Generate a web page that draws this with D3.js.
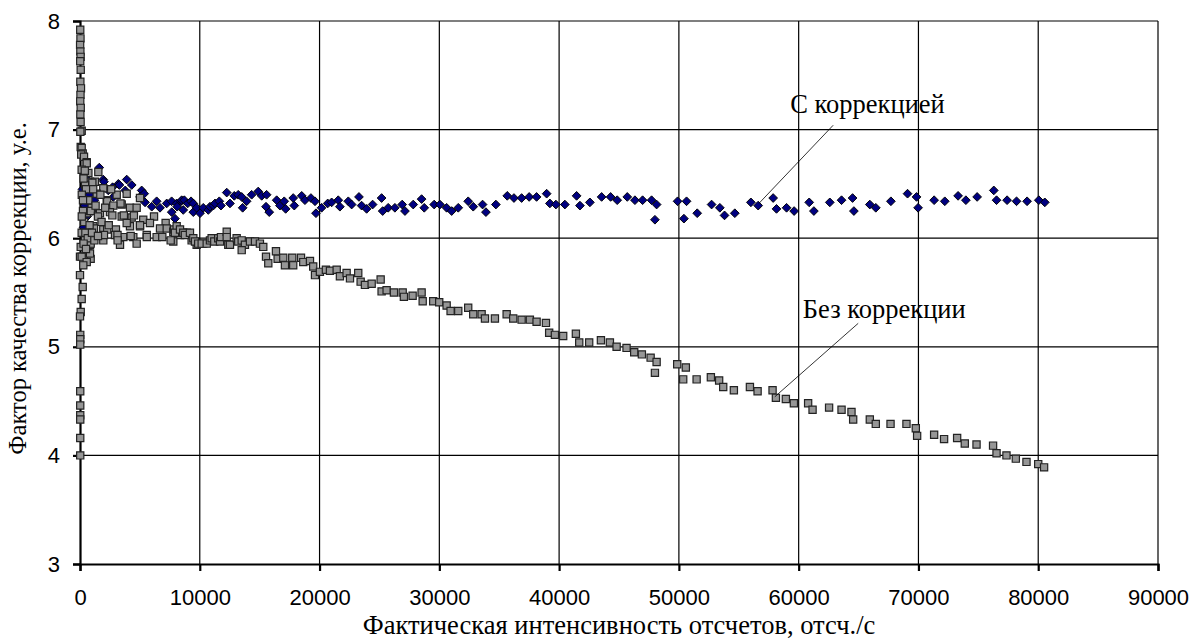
<!DOCTYPE html>
<html>
<head>
<meta charset="utf-8">
<script src="https://cdn.jsdelivr.net/npm/d3@7"></script>
<style>
  body { margin: 0; background: #fff; }
  .tick text { font-family: "Liberation Sans", Arial, sans-serif; font-size: 22px; fill: #000; }
  .title { font-family: "Liberation Serif", "Times New Roman", serif; font-size: 26.5px; fill: #000; }
  .ytitle { font-family: "Liberation Serif", "Times New Roman", serif; font-size: 24.5px; fill: #000; }
</style>
</head>
<body>
<div id="chart"></div>
<script>
// series: С коррекцией (with correction), [intensity, factor]
const withCorrection = [
  [200,6.45],[400,6.30],[600,6.20],[300,6.10],[800,6.40],[1000,6.25],[500,6.55],[1200,6.35],
  [1610,6.65],[1940,6.54],[2000,6.52],[2360,6.44],[2720,6.47],[2780,6.38],[3200,6.50],[3290,6.49],
  [3780,6.44],[3900,6.54],[4320,6.49],[5150,6.44],[5010,6.38],[5360,6.41],[5430,6.33],[5990,6.29],
  [6400,6.34],[6680,6.28],[7240,6.32],[7650,6.34],[7660,6.24],[7930,6.18],[8070,6.32],[8110,6.29],
  [8430,6.34],[8490,6.35],[8710,6.35],[8620,6.26],[8990,6.32],[9270,6.34],[9460,6.32],[9460,6.24],
  [9740,6.28],[10020,6.23],[10290,6.28],[10710,6.26],[10850,6.29],[11130,6.30],[11270,6.32],[11630,6.34],
  [11770,6.30],[12250,6.42],[12520,6.32],[12880,6.39],[13210,6.40],[13500,6.38],[13580,6.28],[13910,6.34],
  [14330,6.40],[14880,6.43],[15170,6.39],[15580,6.40],[15530,6.29],[15800,6.24],[16420,6.35],[16690,6.30],
  [17050,6.34],[17170,6.27],[17800,6.37],[17890,6.30],[18510,6.39],[18780,6.35],[19280,6.37],[19620,6.34],
  [19700,6.23],[20170,6.28],[20680,6.32],[21010,6.33],[21560,6.35],[21700,6.29],[22400,6.34],[22680,6.31],
  [23290,6.38],[23510,6.30],[23930,6.27],[24430,6.31],[25180,6.37],[25270,6.25],[25730,6.28],[26290,6.28],
  [26900,6.31],[27130,6.25],[27820,6.31],[28520,6.36],[28740,6.28],[29570,6.31],[30050,6.31],[30610,6.28],
  [31030,6.25],[31580,6.28],[32410,6.34],[32830,6.29],[33610,6.31],[33890,6.24],[34720,6.31],[35670,6.39],
  [36230,6.37],[36870,6.37],[37500,6.38],[38120,6.38],[38960,6.41],[39230,6.32],[39730,6.31],[40480,6.31],
  [41460,6.39],[41740,6.30],[42570,6.33],[43550,6.38],[44300,6.38],[44850,6.35],[45690,6.38],[46330,6.35],
  [46970,6.35],[47720,6.35],[48140,6.31],[48000,6.17],[49890,6.34],[50640,6.34],[50420,6.18],[51530,6.23],
  [52730,6.31],[53420,6.28],[53810,6.21],[54670,6.23],[56010,6.33],[56620,6.30],[57870,6.37],[58150,6.27],
  [58990,6.28],[59620,6.25],[60880,6.33],[61270,6.25],[62600,6.33],[63580,6.35],[64500,6.37],[64610,6.25],
  [65940,6.31],[66440,6.28],[67700,6.34],[69090,6.41],[69840,6.38],[69970,6.28],[71310,6.35],[72200,6.34],
  [73310,6.39],[73960,6.35],[74900,6.38],[76290,6.44],[76520,6.35],[77400,6.35],[78190,6.34],[79070,6.34],
  [80050,6.35],[80550,6.33]
];

// series: Без коррекции (without correction)
const withoutCorrection = [
  [20,7.92],[40,7.84],[10,7.78],[30,7.72],[50,7.67],[20,7.63],[60,7.55],[30,7.44],[80,7.38],[40,7.32],
  [20,7.26],[60,7.20],[30,7.14],[50,7.07],[140,6.99],[30,6.98],[60,6.84],[140,6.83],[225,6.78],[100,6.77],
  [335,6.75],[560,6.70],[560,6.69],[140,6.63],[1530,6.61],[700,6.60],[835,6.52],[1250,6.52],[1030,6.51],
  [420,6.49],[1945,6.46],[1395,6.41],[3900,6.41],[2230,6.35],[3065,6.40],[5010,6.37],[2270,6.34],[3480,6.31],
  [3380,6.32],[2780,6.30],[4175,6.28],[4730,6.28],[975,6.28],[560,6.23],[1670,6.23],[2500,6.24],[3480,6.20],
  [4315,6.19],[5280,6.17],[2700,6.21],[3660,6.21],[4500,6.21],[6180,6.20],[5840,6.14],[7150,6.14],[4175,6.11],
  [5010,6.11],[1110,6.11],[5010,6.12],[3900,6.14],[1945,6.08],[3000,6.08],[2270,6.08],[1170,6.09],[6680,6.09],
  [7240,6.09],[7790,6.06],[7850,6.08],[8130,6.07],[8555,6.05],[8905,6.05],[8350,6.03],[140,6.05],[420,5.98],
  [1945,5.98],[2920,6.03],[3615,6.01],[4450,6.01],[5570,6.03],[6400,6.01],[2000,6.03],[3130,6.03],[4230,6.02],
  [5580,6.01],[6870,6.01],[4730,5.95],[3340,5.94],[835,5.94],[7790,5.97],[9320,5.98],[9740,5.94],[10290,5.95],
  [3140,5.98],[7570,5.98],[890,5.95],[60,5.92],[610,5.86],[890,5.81],[0,5.83],[695,5.86],[275,5.81],
  [140,5.83],[835,5.86],[560,5.78],[275,5.75],[0,5.66],[225,5.55],[140,5.44],[60,5.32],[0,5.28],
  [300,6.55],[500,6.45],[700,6.35],[900,6.25],[1100,6.45],[1300,6.30],[1500,6.20],[1700,6.40],[1800,6.15],
  [2100,6.28],[2400,6.12],[2600,6.45],[250,6.25],[350,6.15],[450,6.05],[650,6.00],[800,6.12],[1000,6.05],
  [1200,5.98],[1500,6.02],[300,5.95],[500,5.90],[150,6.40],[150,6.20],[400,6.62],[250,6.35],
  [20,5.11],[20,5.07],[20,5.02],[20,4.59],[20,4.46],[20,4.37],[20,4.33],[20,4.16],[20,4.00],
  [8070,6.11],[7930,6.05],[8350,6.08],[8620,6.05],[8760,6.03],[9180,6.05],[9460,6.00],[9600,5.97],[9870,5.95],
  [10160,5.95],[10580,5.95],[10850,5.98],[10990,6.00],[11210,5.97],[11540,6.00],[11690,5.97],[11770,6.01],
  [12250,6.06],[12250,6.01],[12380,5.94],[12520,5.94],[13080,6.00],[13210,5.97],
  [13500,5.98],[13770,5.94],[13500,5.89],[14190,5.97],[14610,5.97],[15020,5.95],[15300,5.92],[15530,5.83],
  [15720,5.77],[16360,5.88],[16500,5.81],[16970,5.82],[17110,5.75],[17720,5.82],[17800,5.75],[18450,5.82],
  [18640,5.78],[19200,5.79],[19470,5.74],[19620,5.66],[20030,5.69],[20530,5.71],[20870,5.70],[21430,5.71],
  [21700,5.65],[22260,5.68],[22540,5.63],[23230,5.68],[23430,5.60],[23790,5.57],[24350,5.58],[25100,5.62],
  [25180,5.51],[25600,5.52],[26210,5.50],[26940,5.50],[27040,5.46],[27770,5.47],[28520,5.50],[28610,5.42],
  [29490,5.42],[29990,5.41],[30610,5.38],[30940,5.33],[31580,5.33],[32410,5.36],[32830,5.30],[33530,5.30],
  [33810,5.26],[34640,5.26],[35620,5.30],[36170,5.26],[36870,5.25],[37560,5.25],[38120,5.23],
  [38900,5.22],[39170,5.13],[39650,5.11],[40340,5.10],[41400,5.12],[41680,5.04],[42510,5.04],[43490,5.06],
  [44240,5.04],[44800,5.00],[45630,4.99],[46270,4.95],[46910,4.93],[47640,4.90],[48140,4.86],[48000,4.76],
  [49860,4.84],[50580,4.81],[50360,4.70],[51480,4.70],[52670,4.72],[53360,4.69],[53700,4.63],[54590,4.60],
  [55930,4.63],[56570,4.59],[57820,4.60],[58100,4.53],[58930,4.52],[59600,4.48],[60790,4.48],[61160,4.42],
  [62540,4.44],[63580,4.42],[64410,4.40],[64550,4.33],
  [65940,4.33],[66440,4.29],[67670,4.29],[69000,4.29],[69780,4.25],[69890,4.18],[71310,4.19],[72140,4.15],
  [73230,4.16],[73870,4.11],[74850,4.10],[76230,4.09],[76520,4.02],[77350,4.00],[78130,3.97],[79020,3.94],
  [80000,3.92],[80490,3.89]
];

const xTicks = [0,10000,20000,30000,40000,50000,60000,70000,80000,90000];
const yTicks = [3,4,5,6,7,8];

const margin = {top: 21, right: 38, bottom: 77, left: 80},
    W = 1196, H = 641,
    width = W - margin.left - margin.right,
    height = H - margin.top - margin.bottom;

const svg = d3.select('#chart').append('svg')
    .attr('width', W).attr('height', H);
const g = svg.append('g')
    .attr('transform', `translate(${margin.left},${margin.top})`);

const x = d3.scaleLinear().domain([0, 90000]).range([0, width]);
const y = d3.scaleLinear().domain([3, 8]).range([height, 0]);

// grid
g.append('g').selectAll('line').data(xTicks.slice(1)).join('line')
    .attr('x1', d => x(d)).attr('x2', d => x(d))
    .attr('y1', 0).attr('y2', height)
    .attr('stroke', '#000').attr('stroke-width', 1.2);
g.append('g').selectAll('line').data(yTicks.slice(1)).join('line')
    .attr('x1', 0).attr('x2', width)
    .attr('y1', d => y(d)).attr('y2', d => y(d))
    .attr('stroke', '#000').attr('stroke-width', 1.2);

// axes
const xAxis = g.append('g').attr('transform', `translate(0,${height})`)
    .call(d3.axisBottom(x).tickValues(xTicks).tickFormat(d3.format('d')).tickSize(7).tickPadding(18));
const yAxis = g.append('g')
    .call(d3.axisLeft(y).tickValues(yTicks).tickFormat(d3.format('d')).tickSize(7).tickPadding(13));
[xAxis, yAxis].forEach(a => {
  a.select('.domain').attr('stroke', '#000').attr('stroke-width', 2.2);
  a.selectAll('.tick line').attr('stroke', '#000').attr('stroke-width', 2.2);
});

// series
const square = d3.symbol().type(d3.symbolSquare).size(52);
const diamond = d3.symbol().type(d3.symbolSquare).size(38);

g.append('g').selectAll('path').data(withCorrection).join('path')
    .attr('d', diamond)
    .attr('transform', d => `translate(${x(d[0])},${y(d[1])}) rotate(45)`)
    .attr('fill', '#000080').attr('stroke', '#000').attr('stroke-width', 0.9);

g.append('g').selectAll('path').data(withoutCorrection).join('path')
    .attr('d', square)
    .attr('transform', d => `translate(${x(d[0])},${y(d[1])})`)
    .attr('fill', '#969696').attr('stroke', '#222').attr('stroke-width', 1.2);

// labels with leader lines
const notes = [
  {text: 'С коррекцией', tx: 59300, ty: 7.15, from: [62880, 7.04], to: [56680, 6.32]},
  {text: 'Без коррекции', tx: 60350, ty: 5.265, from: [64970, 5.216], to: [58010, 4.54]}
];
notes.forEach(n => {
  g.append('line')
    .attr('x1', x(n.from[0])).attr('y1', y(n.from[1]))
    .attr('x2', x(n.to[0])).attr('y2', y(n.to[1]))
    .attr('stroke', '#000').attr('stroke-width', 0.8);
  g.append('text').attr('class', 'title')
    .attr('x', x(n.tx)).attr('y', y(n.ty))
    .text(n.text);
});

// axis titles
g.append('text').attr('class', 'title')
    .attr('x', width / 2).attr('y', height + 70)
    .attr('text-anchor', 'middle')
    .text('Фактическая интенсивность отсчетов, отсч./с');
g.append('text').attr('class', 'ytitle')
    .attr('transform', `translate(${-54},${height / 2 - 4}) rotate(-90)`)
    .attr('text-anchor', 'middle')
    .text('Фактор качества коррекции, у.е.');
</script>
</body>
</html>
